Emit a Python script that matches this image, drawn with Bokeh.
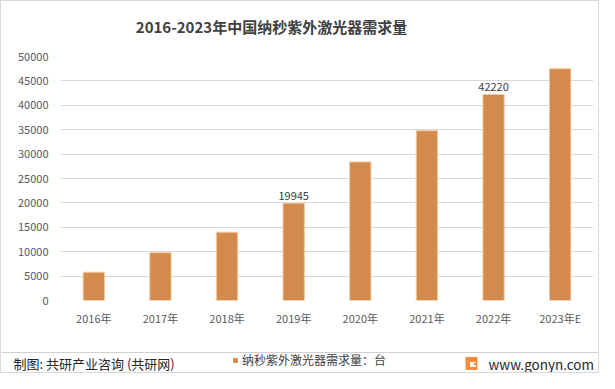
from bokeh.plotting import figure
from bokeh.layouts import column
from bokeh.models import (ColumnDataSource, Range1d, FactorRange, Label, Legend,
                          LegendItem, FixedTicker, NumeralTickFormatter, Span)
from bokeh.core.properties import value
from bokeh.embed import file_html
from bokeh.resources import INLINE

years = ["2016年", "2017年", "2018年", "2019年", "2020年", "2021年", "2022年", "2023年E"]
demand = [5800, 9800, 14000, 19945, 28400, 34800, 42220, 47500]
shown_labels = ["", "", "", "19945", "", "", "42220", ""]
y_ticks = [0, 5000, 10000, 15000, 20000, 25000, 30000, 35000, 40000, 45000, 50000]

title_text = "2016-2023年中国纳秒紫外激光器需求量"
series_name = "纳秒紫外激光器需求量：台"
source_text = "制图: 共研产业咨询 (共研网)"
url_text = "www.gonyn.com"

FONT = "Noto Sans CJK SC"
BAR = "#D38B4D"
BAR_EDGE = "#F3C9A2"
GRID = "#D9D9D9"
W = 597


def blank_fig(h):
    fig = figure(x_range=Range1d(0, W), y_range=Range1d(h, 0), width=W, height=h,
                 output_backend="svg", toolbar_location=None,
                 x_axis_location=None, y_axis_location=None,
                 min_border_left=0, min_border_right=0, min_border_top=0, min_border_bottom=0)
    fig.frame_align = False
    fig.grid.visible = False
    fig.outline_line_color = None
    return fig


# ---------------- header ----------------
HH = 47
h = blank_fig(HH)
h.add_layout(Label(x=270, y=25, text=title_text, text_align="center", text_baseline="middle",
                   text_font=FONT, text_font_size="15px", text_font_style="bold",
                   text_color="#404040"))

# ---------------- main chart ----------------
src = ColumnDataSource(dict(x=years, top=demand, lab=shown_labels))

p = figure(x_range=FactorRange(*years, range_padding=0), y_range=Range1d(0, 50000),
           width=W, height=297, output_backend="svg", toolbar_location=None,
           min_border_left=59, min_border_right=5, min_border_top=8, min_border_bottom=45)
p.frame_align = False
p.outline_line_color = None

p.vbar(x="x", top="top", width=0.32, source=src, fill_color=BAR,
       line_color=BAR_EDGE, line_width=1)
p.text(x="x", y="top", text="lab", source=src, text_align="center", text_baseline="bottom",
       y_offset=-3, text_font=value(FONT), text_font_size="11px", text_color="#404040")

p.yaxis.ticker = FixedTicker(ticks=y_ticks)
p.yaxis.formatter = NumeralTickFormatter(format="0")
for ax in (p.xaxis, p.yaxis):
    ax.axis_line_color = None
    ax.major_tick_line_color = None
    ax.minor_tick_line_color = None
    ax.major_tick_out = 0
    ax.major_tick_in = 0
    ax.minor_tick_out = 0
    ax.major_label_text_font = FONT
    ax.major_label_text_font_size = "11px"
    ax.major_label_text_color = "#595959"
p.yaxis.major_label_standoff = 12
p.xaxis.major_label_standoff = 9
p.xgrid.grid_line_color = None
p.ygrid.grid_line_color = GRID
p.ygrid.grid_line_width = 1

# ---------------- footer ----------------
FH = 27
f = blank_fig(FH)

# separator line
f.add_layout(Span(location=7, dimension="width", line_color="#D0D0D0", line_width=1))

f.add_layout(Label(x=12, y=18, text=source_text, text_align="left", text_baseline="middle",
                   text_font=FONT, text_font_size="13px", text_color="#262626"))
f.add_layout(Label(x=487, y=18, text=url_text, text_align="left", text_baseline="middle",
                   text_font=FONT, text_font_size="13.5px", text_color="#262626"))
# logo
f.rect(x=[470], y=[18], width=12, height=13, fill_color="#F28C3C", line_color=None)
f.rect(x=[471.5], y=[19], width=6, height=5, fill_color="white", line_color=None)
f.rect(x=[474], y=[18.5], width=3, height=2, fill_color="#F28C3C", line_color=None)

# legend swatch source (kept out of view)
dummy = f.vbar(x=[-100], top=[0], bottom=[0], width=1, fill_color=BAR, line_color=None)
legend = Legend(items=[LegendItem(label=series_name, renderers=[dummy])], location=(231, 4),
                orientation="horizontal", glyph_width=6, glyph_height=6, label_height=14,
                label_standoff=4, padding=0, margin=0, border_line_color=None,
                background_fill_alpha=0, label_text_font=FONT, label_text_font_size="12px",
                label_text_color="#404040")
f.add_layout(legend)

layout = column(h, p, f, spacing=0, styles={"border": "1px solid #D9D9D9"})

open("out.html", "w").write(file_html(layout, INLINE))
